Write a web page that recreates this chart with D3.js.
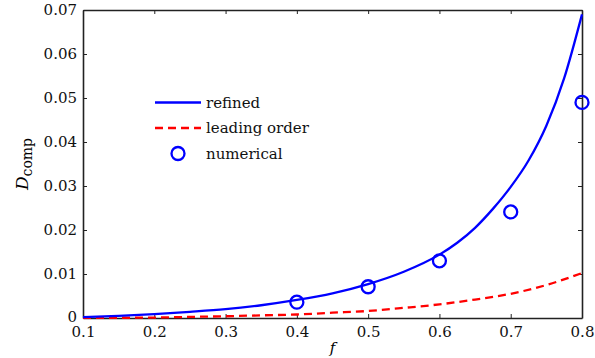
<!DOCTYPE html>
<html>
<head>
<meta charset="utf-8">
<script src="https://cdn.jsdelivr.net/npm/d3@7"></script>
<style>
  body { margin: 0; background: #fff; }
  text { font-family: "DejaVu Serif", "Liberation Serif", serif; }
</style>
</head>
<body>
<div id="my_dataviz"></div>
<script>
// values
var refinedF = [0.1, 0.15, 0.2, 0.25, 0.3, 0.35, 0.4, 0.45, 0.5, 0.55, 0.6, 0.625, 0.65, 0.675, 0.7, 0.725, 0.75, 0.775, 0.8];
var refinedD = [0.0002, 0.0005, 0.0009, 0.0014, 0.0020, 0.0029, 0.0041, 0.0056, 0.0077, 0.0105, 0.0144, 0.0171, 0.0205, 0.0248, 0.0298, 0.0358, 0.0437, 0.0545, 0.069];

var leadingF = [0.1, 0.15, 0.2, 0.25, 0.3, 0.35, 0.4, 0.45, 0.5, 0.55, 0.6, 0.65, 0.7, 0.75, 0.8];
var leadingD = [0.00002, 0.00005, 0.0001, 0.00025, 0.0004, 0.0006, 0.0008, 0.0012, 0.0016, 0.0023, 0.0031, 0.0042, 0.0055, 0.0075, 0.0102];

var numericalF = [0.4, 0.5, 0.6, 0.7, 0.8];
var numericalD = [0.0036, 0.0071, 0.013, 0.0241, 0.049];

var xTicks = [0.1, 0.2, 0.3, 0.4, 0.5, 0.6, 0.7, 0.8];
var yTicks = [0, 0.01, 0.02, 0.03, 0.04, 0.05, 0.06, 0.07];

var legendLabels = ["refined", "leading order", "numerical"];

// set the dimensions and margins of the graph
var margin = {top: 10, right: 13, bottom: 40, left: 83},
    width = 595 - margin.left - margin.right,
    height = 358 - margin.top - margin.bottom;

var svg = d3.select("#my_dataviz")
  .append("svg")
    .attr("width", 595)
    .attr("height", 358)
  .append("g")
    .attr("transform", "translate(" + margin.left + "," + margin.top + ")");

var x = d3.scaleLinear().domain([0.1, 0.8]).range([0, width]);
var y = d3.scaleLinear().domain([0, 0.07]).range([height, 0]);

var fmt = function(d) { return d === 0 ? "0" : d3.format(".2f")(d); };

// axes, ticks pointing inward like matlab
svg.append("g")
  .attr("class", "axis")
  .attr("transform", "translate(0," + height + ")")
  .call(d3.axisBottom(x).tickValues(xTicks).tickSize(-4).tickSizeOuter(0).tickPadding(8).tickFormat(d3.format(".1f")));
svg.append("g")
  .attr("class", "axis")
  .call(d3.axisTop(x).tickValues(xTicks).tickSize(-4).tickSizeOuter(0).tickFormat(""));
svg.append("g")
  .attr("class", "axis yleft")
  .call(d3.axisLeft(y).tickValues(yTicks).tickSize(-4).tickSizeOuter(0).tickPadding(6).tickFormat(fmt));
svg.append("g")
  .attr("class", "axis")
  .attr("transform", "translate(" + width + ",0)")
  .call(d3.axisRight(y).tickValues(yTicks).tickSize(-4).tickSizeOuter(0).tickFormat(""));

svg.selectAll(".axis path").attr("stroke", "#222").attr("stroke-width", 1.6);
svg.selectAll(".axis line").attr("stroke", "#222").attr("stroke-width", 1);
svg.selectAll(".axis text")
  .attr("fill", "#111")
  .style("font-family", "'DejaVu Serif', serif")
  .style("font-size", "15px");
// lift the "0" a little so it clears the 0.1 label
svg.selectAll(".yleft .tick text").filter(function(d) { return d === 0; }).attr("dy", "0.2em");

// curves
var line = d3.line()
  .x(function(d) { return x(d[0]); })
  .y(function(d) { return y(d[1]); })
  .curve(d3.curveMonotoneX);

svg.append("path")
  .datum(leadingF.map(function(f, i) { return [f, leadingD[i]]; }))
  .attr("fill", "none")
  .attr("stroke", "#ff0000")
  .attr("stroke-width", 2.3)
  .attr("stroke-dasharray", "8,5")
  .attr("d", line);

svg.append("path")
  .datum(refinedF.map(function(f, i) { return [f, refinedD[i]]; }))
  .attr("fill", "none")
  .attr("stroke", "#0000ff")
  .attr("stroke-width", 2.3)
  .attr("d", line);

svg.selectAll(".num")
  .data(numericalF)
  .enter().append("circle")
    .attr("class", "num")
    .attr("cx", function(d) { return x(d); })
    .attr("cy", function(d, i) { return y(numericalD[i]); })
    .attr("r", 6.5)
    .attr("fill", "none")
    .attr("stroke", "#0000ff")
    .attr("stroke-width", 2.3);

// axis labels
svg.append("text")
  .attr("x", width / 2)
  .attr("y", height + 35)
  .attr("text-anchor", "middle")
  .style("font-style", "italic")
  .style("font-size", "15px")
  .text("f");

var ylab = svg.append("text")
  .attr("transform", "translate(" + (-55) + "," + (height / 2) + ") rotate(-90)")
  .attr("text-anchor", "middle");
ylab.append("tspan").style("font-style", "italic").style("font-size", "17px").text("D");
ylab.append("tspan").attr("dy", 4).style("font-size", "14px").text("comp");

// ----- LEGEND -----
var legend = svg.selectAll(".legend")
  .data(legendLabels)
  .enter().append("g")
    .attr("class", "legend")
    .attr("transform", function(d, i) { return "translate(72," + (92.5 + i * 25.5) + ")"; });

legend.filter(function(d, i) { return i < 2; })
  .append("line")
    .attr("x1", 0).attr("x2", 46)
    .attr("stroke", function(d, i) { return i === 0 ? "#0000ff" : "#ff0000"; })
    .attr("stroke-width", 2.3)
    .attr("stroke-dasharray", function(d, i) { return i === 0 ? null : "8,5"; });

legend.filter(function(d, i) { return i === 2; })
  .append("circle")
    .attr("cx", 23)
    .attr("r", 6.5)
    .attr("fill", "none")
    .attr("stroke", "#0000ff")
    .attr("stroke-width", 2.3);

legend.append("text")
  .attr("x", 51)
  .attr("dy", "0.35em")
  .style("font-size", "15px")
  .attr("fill", "#111")
  .text(function(d) { return d; });
</script>
</body>
</html>
